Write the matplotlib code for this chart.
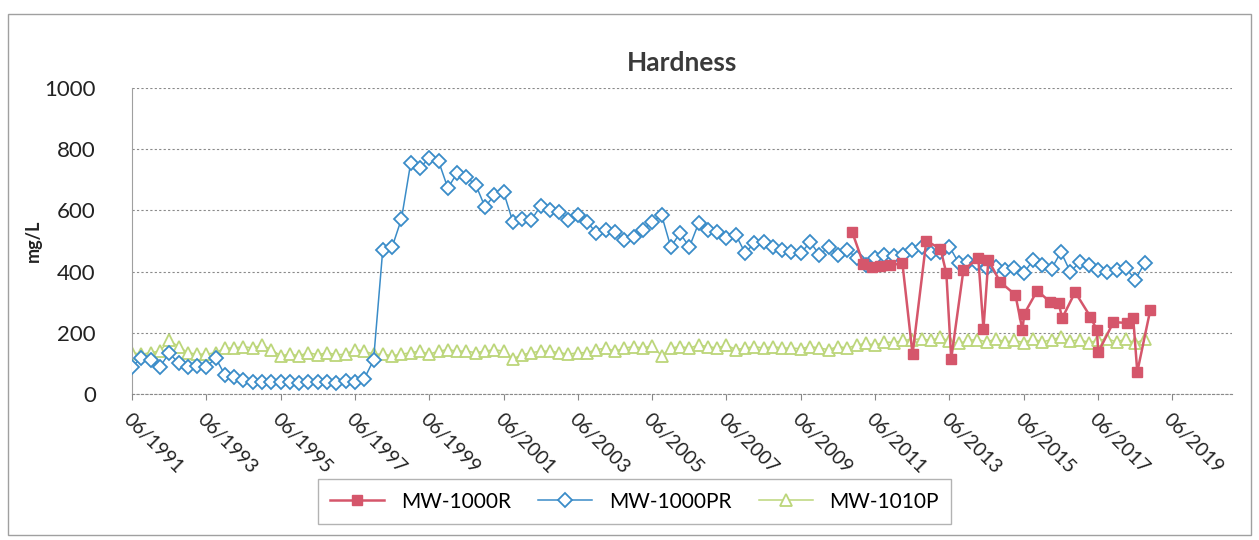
import pandas as pd
import matplotlib
matplotlib.use("Agg")
import matplotlib.pyplot as plt
import matplotlib.dates as mdates
from matplotlib.patches import Rectangle

plt.rcParams['font.family'] = ['Lato', 'DejaVu Sans']

# quarterly sampling for MW-1000PR and MW-1010P, starting June 1991
quarter_dates = pd.date_range('1991-06-01', periods=110, freq='3MS')

mw1000pr = [89, 118, 111, 88, 134, 101, 88, 91, 88, 118,
            62, 57, 46, 40, 40, 38, 38, 40, 36, 40,
            38, 40, 36, 42, 40, 50, 111, 470, 480, 572,
            755, 739, 771, 761, 673, 722, 709, 683, 611, 650,
            660, 562, 572, 569, 615, 601, 595, 569, 585, 562,
            526, 536, 529, 503, 513, 536, 562, 585, 480, 526,
            480, 559, 536, 529, 510, 520, 461, 493, 497, 480,
            471, 465, 460, 497, 454, 481, 454, 470, 445, 422,
            445, 455, 450, 454, 471, 481, 460, 465, 481, 428,
            430, 428, 412, 416, 405, 412, 395, 438, 420, 410,
            464, 399, 431, 422, 405, 399, 405, 412, 373, 428]

mw1010p = [135, 130, 135, 140, 175, 155, 135, 130, 130, 135,
           150, 150, 155, 150, 160, 145, 125, 130, 125, 135,
           128, 135, 128, 130, 145, 140, 130, 130, 125, 130,
           135, 140, 130, 140, 145, 140, 140, 135, 140, 145,
           140, 115, 128, 135, 140, 140, 135, 130, 135, 135,
           145, 150, 140, 150, 155, 150, 158, 125, 150, 155,
           150, 160, 155, 150, 160, 145, 150, 155, 150, 155,
           150, 150, 148, 155, 150, 145, 155, 150, 160, 165,
           160, 170, 168, 175, 178, 180, 175, 185, 172, 165,
           175, 178, 170, 180, 170, 175, 168, 180, 170, 178,
           185, 172, 178, 168, 175, 180, 170, 180, 165, 180]

mw1000r_dates = pd.to_datetime([
    '2010-10-18', '2011-02-06', '2011-05-05', '2011-07-20', '2011-10-27',
    '2012-02-24', '2012-06-03', '2012-10-16', '2013-03-04', '2013-05-01',
    '2013-06-18', '2013-10-16', '2014-03-11', '2014-05-01', '2014-06-18',
    '2014-10-12', '2015-03-11', '2015-05-19', '2015-06-06', '2015-10-12',
    '2016-02-17', '2016-05-08', '2016-06-13', '2016-10-18', '2017-03-18',
    '2017-05-19', '2017-06-03', '2017-10-30', '2018-03-14', '2018-05-12',
    '2018-06-21', '2018-10-27'])
mw1000r = [530, 425, 415, 418, 420, 428, 130, 500, 475, 395,
           115, 405, 444, 213, 438, 366, 324, 209, 262, 338,
           300, 298, 248, 333, 252, 209, 137, 235, 232, 248,
           72, 275]

tick_dates = pd.to_datetime(['%d-06-01' % y for y in range(1991, 2020, 2)])

red = '#d5566b'
blue = '#3a8cc8'
green = '#bcd67a'

fig = plt.figure(figsize=(12.59, 5.40), dpi=100)
fig.patches.append(Rectangle((0.006, 0.01), 0.988, 0.965, transform=fig.transFigure,
                             fill=False, edgecolor='#a0a0a0', linewidth=1))
ax = fig.add_axes([0.1048, 0.2704, 0.874, 0.5666])

ax.plot(mw1000r_dates, mw1000r, color=red, marker='s', markersize=7,
        linewidth=1.8, label='MW-1000R', zorder=4)
ax.plot(quarter_dates, mw1000pr, color=blue, marker='D', markersize=7,
        markerfacecolor='white', markeredgewidth=1.3, linewidth=1.1,
        label='MW-1000PR', zorder=3)
ax.plot(quarter_dates, mw1010p, color=green, marker='^', markersize=9,
        markerfacecolor='white', markeredgewidth=1.3, linewidth=1.1,
        label='MW-1010P', zorder=2)

ax.set_ylim(0, 1000)
ax.set_yticks([0, 200, 400, 600, 800, 1000])
ax.set_xlim(pd.Timestamp('1991-06-01'), pd.Timestamp('2021-01-10'))
ax.set_xticks(tick_dates)
ax.xaxis.set_major_formatter(mdates.DateFormatter('%m/%Y'))
for lbl in ax.get_xticklabels():
    lbl.set_rotation(-45)
    lbl.set_ha('left')
    lbl.set_va('top')
    lbl.set_rotation_mode('anchor')

ax.tick_params(axis='x', labelsize=14, length=4, color='#888888', pad=8, labelcolor='#222222')
ax.tick_params(axis='y', labelsize=16, length=0, pad=26, labelcolor='#222222')
ax.grid(axis='y', color='#8a8a8a', linestyle=(0, (2, 2)), linewidth=0.8)
for side in ['top', 'right']:
    ax.spines[side].set_visible(False)
ax.spines['left'].set_color('#a0a0a0')
ax.spines['bottom'].set_color('#8a8a8a')
ax.spines['bottom'].set_linestyle((0, (2, 2)))

ax.set_title('Hardness', fontsize=19, fontweight='bold', color='#3a3a3a', pad=12)
ax.set_ylabel('mg/L', fontsize=13, fontweight='bold', color='#222222', labelpad=2)

fig.legend(loc='upper center', bbox_to_anchor=(0.504, 0.132), ncol=3,
           fontsize=15, frameon=True, fancybox=False, edgecolor='#a0a0a0',
           handlelength=2.6, columnspacing=1.3, borderpad=0.6)

fig.savefig('out.png', dpi=100)
